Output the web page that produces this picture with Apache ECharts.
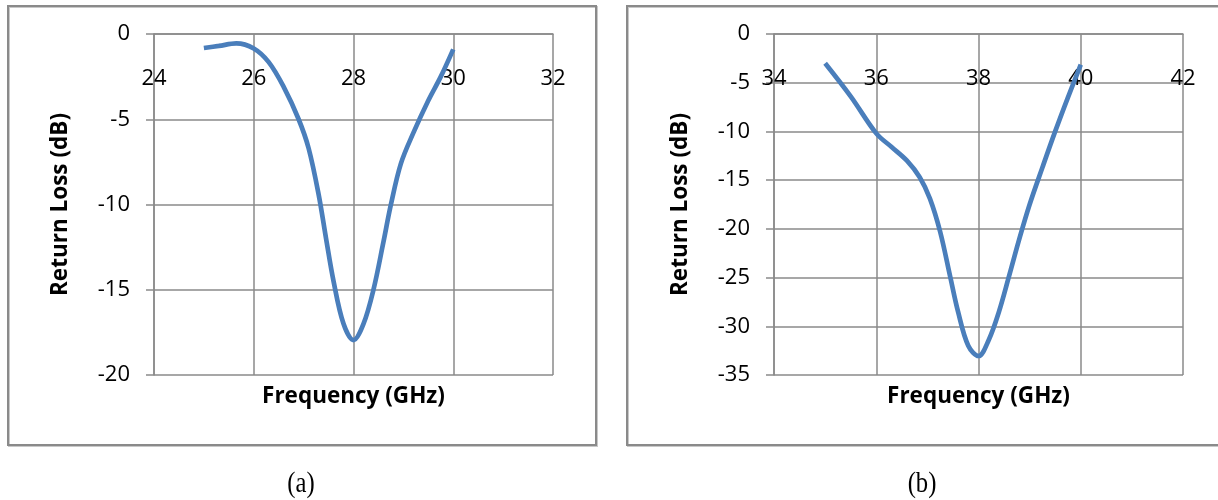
<!DOCTYPE html>
<html>
<head>
<meta charset="utf-8">
<script src="https://cdn.jsdelivr.net/npm/echarts@6/dist/echarts.min.js"></script>
<style>
html,body{margin:0;padding:0;background:#fff;}
#chart{width:1218px;height:500px;}
</style>
</head>
<body>
<div id="chart"></div>
<script>
// Panel (a): 28 GHz band
const freqA = [25.0, 25.3, 25.65, 26.0, 26.3, 26.6, 26.9, 27.1, 27.3, 27.45, 27.6, 27.8, 28.0, 28.2, 28.4, 28.6, 28.75, 28.95, 29.2, 29.5, 29.75, 30.0];
const lossA = [-0.82, -0.7, -0.55, -0.85, -1.65, -3.1, -5.0, -6.7, -9.4, -12.0, -14.5, -17.0, -17.95, -17.0, -15.0, -12.2, -10.0, -7.6, -5.8, -3.9, -2.5, -0.9];
// Panel (b): 38 GHz band
const freqB = [35.0, 35.5, 36.0, 36.3, 36.6, 36.85, 37.05, 37.25, 37.45, 37.6, 37.8, 38.0, 38.2, 38.4, 38.6, 38.8, 39.0, 39.25, 39.5, 39.75, 40.0];
const lossB = [-3.0, -6.4, -10.2, -11.6, -13.0, -14.7, -16.9, -20.3, -25.0, -28.5, -32.0, -33.05, -31.4, -28.5, -24.8, -21.0, -17.5, -13.7, -10.0, -6.5, -3.15];

const xRangeA = [24, 32];
const yRangeA = [-20, 0];
const xRangeB = [34, 42];
const yRangeB = [-35, 0];

const xTitle = 'Frequency (GHz)';
const yTitle = 'Return Loss (dB)';
const captions = ['(a)', '(b)'];

const gridColor = '#8a8a8a';
const lineColor = '#4a7ebb';
const tickFont = {fontFamily: 'Open Sans', fontSize: 22, color: '#000'};

function xAxisFor(idx, range) {
  return {
    type: 'value', gridIndex: idx, min: range[0], max: range[1], interval: 2,
    position: 'top',
    axisLine: {show: true, onZero: false, lineStyle: {color: gridColor, width: 1.5}},
    axisTick: {show: false},
    axisLabel: Object.assign({inside: true, margin: 34}, tickFont),
    splitLine: {show: true, lineStyle: {color: gridColor, width: 1.5}}
  };
}
function yAxisFor(idx, range) {
  return {
    type: 'value', gridIndex: idx, min: range[0], max: range[1], interval: 5,
    axisLine: {show: true, lineStyle: {color: gridColor, width: 1.5}},
    axisTick: {show: true, length: 8, lineStyle: {color: gridColor, width: 1.5}},
    axisLabel: Object.assign({margin: 24}, tickFont),
    splitLine: {show: true, lineStyle: {color: gridColor, width: 1.5}},
    name: yTitle, nameLocation: 'middle', nameRotate: 90, nameGap: 82,
    nameTextStyle: {fontFamily: 'Open Sans', fontWeight: 'bold', fontSize: 22.5, color: '#000'}
  };
}
function zip(xs, ys) { return xs.map((x, i) => [x, ys[i]]); }

const chart = echarts.init(document.getElementById('chart'), null, {renderer: 'canvas'});
chart.setOption({
  animation: false,
  backgroundColor: '#fff',
  grid: [
    {left: 154, right: 1218 - 553, top: 34, bottom: 125},
    {left: 774, right: 1218 - 1183, top: 34, bottom: 125}
  ],
  xAxis: [xAxisFor(0, xRangeA), xAxisFor(1, xRangeB)],
  yAxis: [yAxisFor(0, yRangeA), yAxisFor(1, yRangeB)],
  series: [
    {type: 'line', xAxisIndex: 0, yAxisIndex: 0, data: zip(freqA, lossA), smooth: 0.35, showSymbol: false,
     lineStyle: {color: lineColor, width: 4.7}},
    {type: 'line', xAxisIndex: 1, yAxisIndex: 1, data: zip(freqB, lossB), smooth: 0.35, showSymbol: false,
     lineStyle: {color: lineColor, width: 4.7}}
  ],
  graphic: [
    {type: 'rect', shape: {x: 9, y: 7, width: 588, height: 439}, style: {fill: null, stroke: '#c8c8c8', lineWidth: 2}, silent: true},
    {type: 'rect', shape: {x: 8, y: 6, width: 588, height: 439}, style: {fill: null, stroke: '#8a8a8a', lineWidth: 2}, silent: true},
    {type: 'rect', shape: {x: 628, y: 7, width: 640, height: 439}, style: {fill: null, stroke: '#c8c8c8', lineWidth: 2}, silent: true},
    {type: 'rect', shape: {x: 627, y: 6, width: 640, height: 439}, style: {fill: null, stroke: '#8a8a8a', lineWidth: 2}, silent: true},
    {type: 'text', x: 353.5, y: 397, style: {text: xTitle, fontFamily: 'Open Sans', fontWeight: 'bold', fontSize: 22.5, fill: '#000', textAlign: 'center', textVerticalAlign: 'middle'}},
    {type: 'text', x: 978.5, y: 397, style: {text: xTitle, fontFamily: 'Open Sans', fontWeight: 'bold', fontSize: 22.5, fill: '#000', textAlign: 'center', textVerticalAlign: 'middle'}},
    {type: 'text', x: 301, y: 484, scaleX: 0.85, style: {text: captions[0], fontFamily: 'Liberation Serif', fontSize: 29, fill: '#000', textAlign: 'center', textVerticalAlign: 'middle'}},
    {type: 'text', x: 922, y: 484, scaleX: 0.85, style: {text: captions[1], fontFamily: 'Liberation Serif', fontSize: 29, fill: '#000', textAlign: 'center', textVerticalAlign: 'middle'}}
  ]
});
</script>
</body>
</html>
